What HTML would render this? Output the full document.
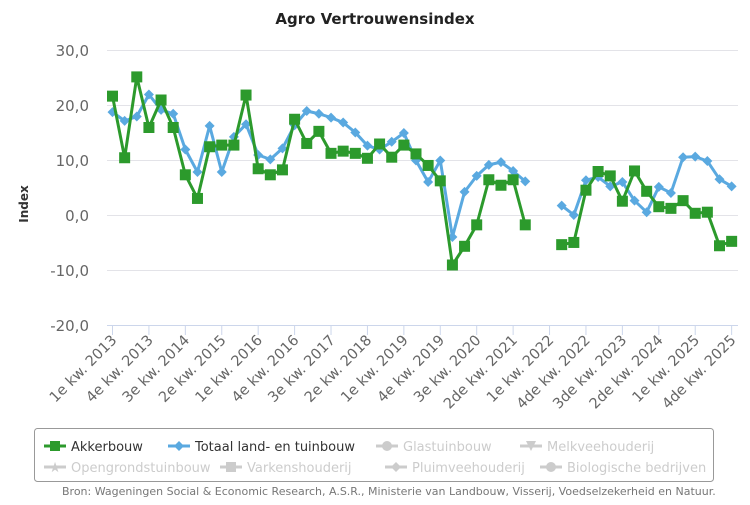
<!DOCTYPE html>
<html><head><meta charset="utf-8"><style>
body{margin:0;background:#fff;}
svg text{font-family:"DejaVu Sans","Liberation Sans",sans-serif;}
</style></head><body>
<svg width="750" height="500" xmlns="http://www.w3.org/2000/svg">
<text x="375" y="24" text-anchor="middle" font-size="15" font-weight="bold" fill="#222">Agro Vertrouwensindex</text>
<g stroke="#e3e3e8" stroke-width="1">
<line x1="107" x2="738" y1="50.5" y2="50.5"/><line x1="107" x2="738" y1="105.5" y2="105.5"/>
<line x1="107" x2="738" y1="160.5" y2="160.5"/><line x1="107" x2="738" y1="215.5" y2="215.5"/>
<line x1="107" x2="738" y1="270.5" y2="270.5"/>
</g>
<line x1="107" x2="738" y1="325.5" y2="325.5" stroke="#ccd6eb"/>
<g font-size="15" fill="#666" text-anchor="end">
<text x="89" y="56">30,0</text><text x="89" y="111">20,0</text><text x="89" y="166">10,0</text>
<text x="89" y="221">0,0</text><text x="89" y="276">-10,0</text><text x="89" y="331">-20,0</text>
</g>
<text transform="translate(28,204) rotate(-90)" text-anchor="middle" font-size="12" font-weight="bold" fill="#333">Index</text>
<g id="ticks" stroke="#ccd6eb"></g>
<g id="xl" font-size="14.5" fill="#666" text-anchor="end"></g>
<g id="series"></g>
<rect x="34.5" y="428.5" width="679" height="53" rx="3" fill="none" stroke="#999"/>
<g font-size="13">
<line x1="44" x2="66" y1="446" y2="446" stroke="#2c9a2c" stroke-width="3"/><rect x="50" y="441" width="10" height="10" fill="#2c9a2c"/>
<text x="71" y="451" fill="#333">Akkerbouw</text>
<line x1="168" x2="190" y1="446" y2="446" stroke="#5aa9e0" stroke-width="3"/><path d="M179 441 L184 446 L179 451 L174 446Z" fill="#5aa9e0"/>
<text x="195" y="451" fill="#333">Totaal land- en tuinbouw</text>
<line x1="376" x2="398" y1="446" y2="446" stroke="#ccc" stroke-width="3"/><circle cx="387" cy="446" r="5" fill="#ccc"/>
<text x="403" y="451" fill="#ccc">Glastuinbouw</text>
<line x1="520" x2="542" y1="446" y2="446" stroke="#ccc" stroke-width="3"/><path d="M526 441 L536 441 L531 451Z" fill="#ccc"/>
<text x="547" y="451" fill="#ccc">Melkveehouderij</text>
<line x1="44" x2="66" y1="467" y2="467" stroke="#ccc" stroke-width="3"/><text x="55" y="472" text-anchor="middle" fill="#ccc" font-size="14">★</text>
<text x="71" y="472" fill="#ccc">Opengrondstuinbouw</text>
<line x1="220" x2="242" y1="467" y2="467" stroke="#ccc" stroke-width="3"/><rect x="226" y="462" width="10" height="10" fill="#ccc"/>
<text x="247" y="472" fill="#ccc">Varkenshouderij</text>
<line x1="385" x2="407" y1="467" y2="467" stroke="#ccc" stroke-width="3"/><path d="M396 462 L401 467 L396 472 L391 467Z" fill="#ccc"/>
<text x="412" y="472" fill="#ccc">Pluimveehouderij</text>
<line x1="540" x2="562" y1="467" y2="467" stroke="#ccc" stroke-width="3"/><circle cx="551" cy="467" r="5" fill="#ccc"/>
<text x="567" y="472" fill="#ccc">Biologische bedrijven</text>
</g>
<text x="62" y="495" font-size="11" fill="#777">Bron: Wageningen Social &amp; Economic Research, A.S.R., Ministerie van Landbouw, Visserij, Voedselzekerheid en Natuur.</text>
<script>
var NS="http://www.w3.org/2000/svg";
function el(t,a,p){var e=document.createElementNS(NS,t);for(var k in a)e.setAttribute(k,a[k]);p.appendChild(e);return e;}
var X=function(i){return 112.5+i*12.14;}, Y=function(v){return 215.5-v*5.5;};
var labs=["1e kw. 2013","4e kw. 2013","3e kw. 2014","2e kw. 2015","1e kw. 2016","4e kw. 2016","3e kw. 2017","2e kw. 2018","1e kw. 2019","4e kw. 2019","3e kw. 2020","2de kw. 2021","1e kw. 2022","4de kw. 2022","3de kw. 2023","2de kw. 2024","1e kw. 2025","4de kw. 2025"];
var tk=document.getElementById("ticks"),xl=document.getElementById("xl");
labs.forEach(function(l,j){var x=X(j*3);el("line",{x1:x,x2:x,y1:325,y2:335},tk);
var t=el("text",{transform:"translate("+(x+5)+",341) rotate(-45)"},xl);t.textContent=l;});
var N=null;
var g=[21.7,10.5,25.2,16,21,16,7.4,3.1,12.5,12.8,12.8,21.9,8.5,7.4,8.3,17.5,13.1,15.3,11.3,11.7,11.3,10.4,13,10.6,12.8,11.2,9.1,6.3,-9,-5.6,-1.7,6.5,5.5,6.5,-1.7,N,N,-5.3,-4.9,4.6,8,7.2,2.6,8.1,4.4,1.6,1.3,2.7,0.4,0.6,-5.5,-4.7];
var b=[18.8,17.2,18,22,19.2,18.5,12,7.9,16.3,7.9,14.3,16.6,11,10.2,12.2,16.4,19,18.5,17.8,16.9,15.1,12.7,12,13.4,15,10,6.1,10,-3.9,4.3,7.2,9.2,9.7,8.1,6.2,N,N,1.8,0.1,6.4,7,5.3,6.1,2.7,0.6,5.2,4.1,10.6,10.7,9.9,6.6,5.3];
var s=document.getElementById("series");
function draw(d,c,mk){var segs=[],cur=[];d.forEach(function(v,i){if(v===N){if(cur.length)segs.push(cur);cur=[];}else cur.push(X(i)+","+Y(v));});if(cur.length)segs.push(cur);
segs.forEach(function(p){el("polyline",{points:p.join(" "),fill:"none",stroke:c,"stroke-width":3,"stroke-linejoin":"round"},s);});
d.forEach(function(v,i){if(v===N)return;var x=X(i),y=Y(v);
if(mk=="sq")el("rect",{x:x-5.5,y:y-5.5,width:11,height:11,fill:c},s);else el("path",{d:"M"+x+" "+(y-5)+"L"+(x+5)+" "+y+"L"+x+" "+(y+5)+"L"+(x-5)+" "+y+"Z",fill:c},s);});}
draw(b,"#5aa9e0","di");draw(g,"#2c9a2c","sq");
</script>
</svg>
</body></html>
